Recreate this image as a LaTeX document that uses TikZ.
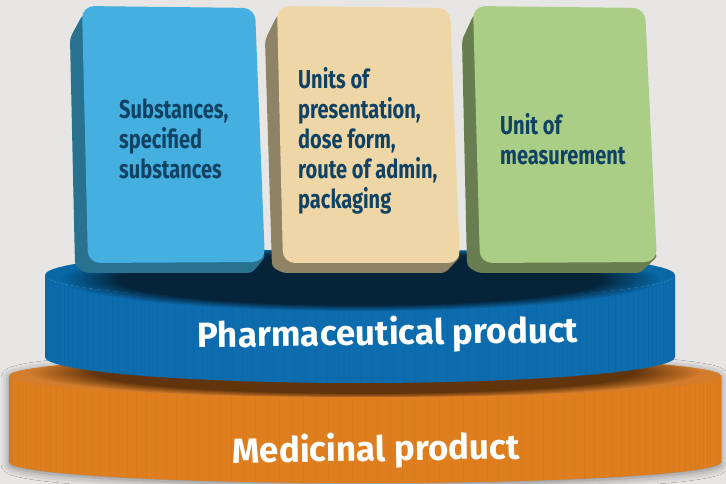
\documentclass[tikz,border=0pt]{standalone}
\usepackage{fontspec}
\newfontfamily\cardfont[FakeStretch=0.77]{Fira Sans}
\newfontfamily\basefont[FakeStretch=1.0]{Fira Sans}
\usetikzlibrary{fadings,shadows.blur}
\definecolor{bg}{RGB}{231,230,229}
\definecolor{oedge}{RGB}{222,126,30}
\definecolor{omid}{RGB}{247,148,34}
\definecolor{otop}{RGB}{210,124,44}
\definecolor{oshadow}{RGB}{98,52,12}
\definecolor{bedge}{RGB}{12,108,174}
\definecolor{bmid}{RGB}{0,128,200}
\definecolor{btop}{RGB}{8,104,166}
\definecolor{bshadow}{RGB}{5,36,58}
\definecolor{c1face}{RGB}{69,176,224}
\definecolor{c1side}{RGB}{40,113,143}
\definecolor{c2face}{RGB}{239,214,166}
\definecolor{c2side}{RGB}{143,131,102}
\definecolor{c3face}{RGB}{171,206,135}
\definecolor{c3side}{RGB}{104,126,80}
\definecolor{navy}{RGB}{16,66,100}
\tikzset{
  cardtext/.style={font=\cardfont\bfseries\fontsize{26}{30}\selectfont, text=navy, align=left, inner sep=0pt, anchor=west},
  basetext/.style={font=\basefont\bfseries\fontsize{35}{38}\selectfont, text=white, inner sep=0pt, anchor=base},
  cardface/.style={rounded corners=12pt},
  cardside/.style={rounded corners=4pt},
}
\begin{document}
\begin{tikzpicture}[x=1pt,y=1pt]
\useasboundingbox (0,0) rectangle (726,484);
\fill[bg] (0,0) rectangle (726,484);

% ---------- orange cylinder ----------
\fill[otop, blur shadow={shadow xshift=0pt,shadow yshift=-2pt,shadow blur radius=8pt,shadow opacity=45}]
  (9,108) -- (9,22) arc[start angle=180,end angle=360,x radius=356,y radius=21]
  -- (721,108) arc[start angle=0,end angle=180,x radius=356,y radius=21] -- cycle;
\shade[left color=oedge, middle color=omid, right color=oedge]
  (9,108) -- (9,22) arc[start angle=180,end angle=360,x radius=356,y radius=21]
  -- (721,108) arc[start angle=0,end angle=-180,x radius=356,y radius=21] -- cycle;
\foreach \a in {182,184,...,358}{
  \draw[black, opacity=0.03, line width=0.4pt]
    ({365+356*cos(\a)},{108+21*sin(\a)}) -- ({365+356*cos(\a)},{22+21*sin(\a)});
}
\fill[otop] (365,108) ellipse[x radius=356,y radius=21];
\begin{scope}
  \clip (365,108) ellipse[x radius=356,y radius=21];
  \fill[oshadow, path fading=circle with fuzzy edge 20 percent] (365,112) ellipse[x radius=335,y radius=26];
\end{scope}

% ---------- blue cylinder ----------
\shade[left color=bedge, middle color=bmid, right color=bedge]
  (45,209) -- (45,127) arc[start angle=180,end angle=360,x radius=315,y radius=26]
  -- (675,209) arc[start angle=0,end angle=-180,x radius=315,y radius=26] -- cycle;
\foreach \a in {182,184,...,358}{
  \draw[black, opacity=0.035, line width=0.4pt]
    ({360+315*cos(\a)},{209+26*sin(\a)}) -- ({360+315*cos(\a)},{127+26*sin(\a)});
}
\fill[btop] (360,209) ellipse[x radius=315,y radius=26];
\begin{scope}
  \clip (45,209) -- (45,127) arc[start angle=180,end angle=360,x radius=315,y radius=26]
    -- (675,209) arc[start angle=0,end angle=180,x radius=315,y radius=26] -- cycle;
  \fill[bshadow, path fading=circle with fuzzy edge 20 percent] (360,205) ellipse[x radius=300,y radius=32];
\end{scope}

% ---------- cards ----------
\fill[c1side, cardside] (83,470) -- (70,446) -- (75,218) -- (86,211) -- (252,211) -- (266,228) -- cycle;
\fill[c1face, cardface] (82,478) -- (255,476) -- (265,222) -- (88,221) -- cycle;
\fill[c2side, cardside] (278,470) -- (265,444) -- (272,217) -- (283,211) -- (445,211) -- (461,228) -- cycle;
\fill[c2face, cardface] (277,478) -- (450,476) -- (460,221) -- (283,221) -- cycle;
\fill[c3side, cardside] (474,470) -- (462,444) -- (467,218) -- (478,211) -- (640,211) -- (658,228) -- cycle;
\fill[c3face, cardface] (473,478) -- (645,476) -- (657,222) -- (480,221) -- cycle;

\node[cardtext] (t1) at (119,345) {Substances,\\specified\\substances};
\node[cardtext] (t2) at (298,343) {Units of\\presentation,\\dose form,\\route of admin,\\packaging};
\node[cardtext] (t3) at (500,345) {Unit of\\measurement};

% ---------- base labels ----------
\node[basetext, rotate=0.8] (pp) at (388,139) {Pharmaceutical product};
\node[basetext, rotate=0.8] (mp) at (376,23) {Medicinal product};
\end{tikzpicture}
\end{document}
